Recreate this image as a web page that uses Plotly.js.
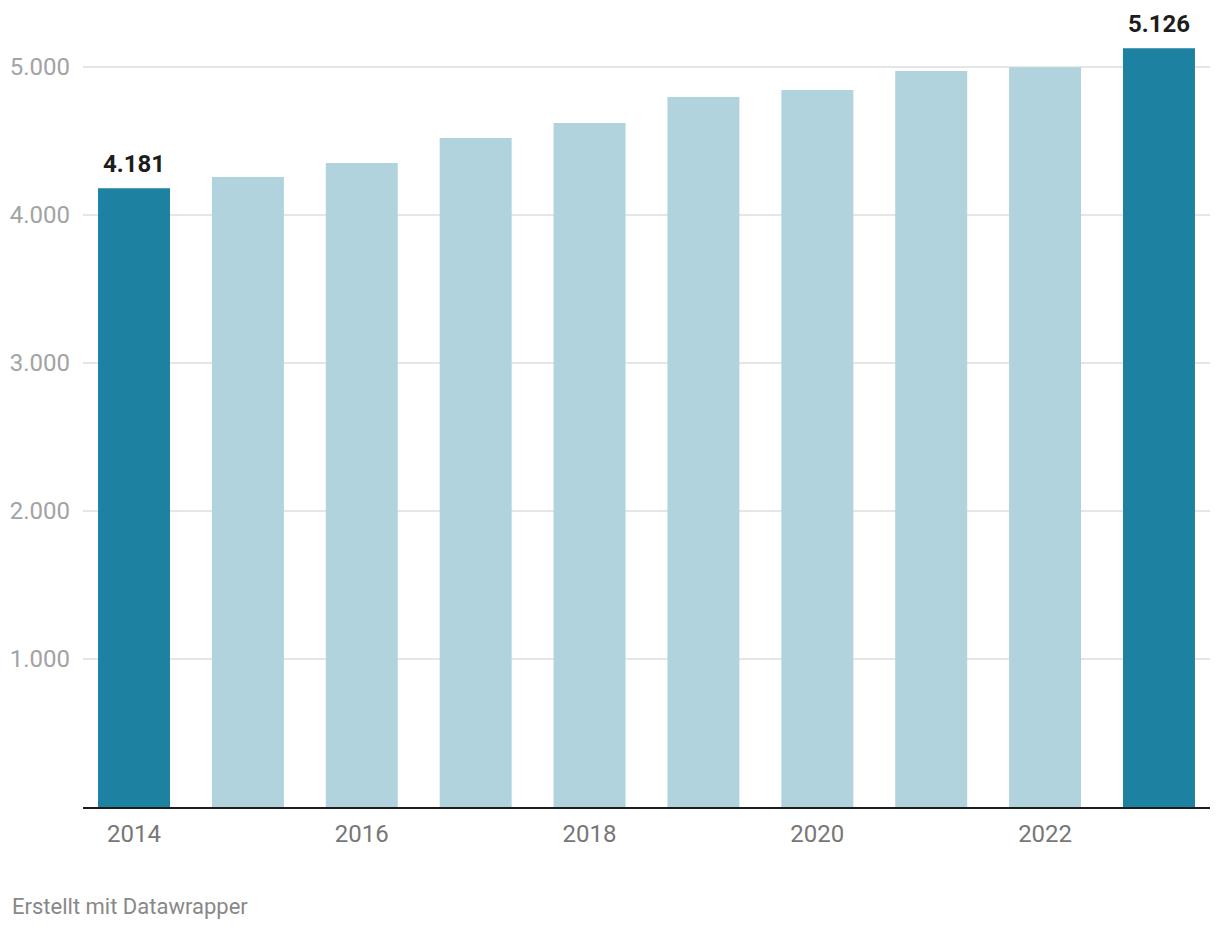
<!DOCTYPE html>
<html>
<head>
<meta charset="utf-8">
<script src="https://cdn.plot.ly/plotly-3.0.1.min.js"></script>
<style>
  html, body { margin: 0; padding: 0; background: #fff; }
  #chart { width: 1220px; height: 930px; }
</style>
</head>
<body>
<div id="chart"></div>
<script>
const years = ['2014','2015','2016','2017','2018','2019','2020','2021','2022','2023'];
const values = [4181, 4257, 4351, 4520, 4622, 4797, 4845, 4973, 4998, 5126];
const highlighted = [true, false, false, false, false, false, false, false, false, true];
const xTickLabels = ['2014','2016','2018','2020','2022'];
const yTickVals = [1000, 2000, 3000, 4000, 5000];

const darkColor = '#1d81a2';
const lightColor = '#b1d3dd';

const trace = {
  type: 'bar',
  x: years,
  y: values,
  marker: { color: highlighted.map(h => h ? darkColor : lightColor) },
  hoverinfo: 'none'
};

function fmt(v) {
  return String(v).replace(/\B(?=(\d{3})+(?!\d))/g, '.');
}

// Category axis: annotations are positioned by category index
const valueLabels = years
  .map((yr, i) => ({ i, v: values[i], h: highlighted[i] }))
  .filter(d => d.h)
  .map(d => ({
    x: d.i, y: d.v, xref: 'x', yref: 'y',
    text: '<b>' + fmt(d.v) + '</b>',
    showarrow: false,
    xanchor: 'center', yanchor: 'bottom',
    yshift: 8,
    font: { family: 'Roboto', size: 24, color: '#1d1d1d' }
  }));

const layout = {
  width: 1220,
  height: 930,
  margin: { l: 83, r: 10, t: 30, b: 123 },
  paper_bgcolor: '#ffffff',
  plot_bgcolor: '#ffffff',
  separators: ',.',
  bargap: 0.368,
  showlegend: false,
  font: { family: 'Roboto', size: 24, color: '#888' },
  xaxis: {
    type: 'category',
    range: [-0.448, 9.448],
    tickmode: 'array',
    tickvals: xTickLabels,
    ticktext: xTickLabels,
    ticks: '',
    showgrid: false,
    showline: true,
    linecolor: '#1d1d1d',
    linewidth: 2,
    tickfont: { family: 'Roboto', size: 24, color: '#777' },
    ticklabelstandoff: 4,
    fixedrange: true
  },
  yaxis: {
    range: [0, 5250],
    tickmode: 'array',
    tickvals: yTickVals,
    tickformat: ',d',
    ticks: '',
    showgrid: true,
    gridcolor: '#e6e6e6',
    gridwidth: 1.5,
    zeroline: false,
    showline: false,
    tickfont: { family: 'Roboto', size: 24, color: '#a3a3a3' },
    ticklabelstandoff: 12,
    fixedrange: true
  },
  annotations: valueLabels.concat([{
    text: 'Erstellt mit Datawrapper',
    xref: 'paper', yref: 'paper',
    x: 0, y: 0,
    xshift: -73, yshift: -99,
    xanchor: 'left', yanchor: 'middle',
    showarrow: false,
    font: { family: 'Roboto', size: 22, color: '#888' }
  }])
};

Plotly.newPlot('chart', [trace], layout, { displayModeBar: false, staticPlot: true });
</script>
</body>
</html>
